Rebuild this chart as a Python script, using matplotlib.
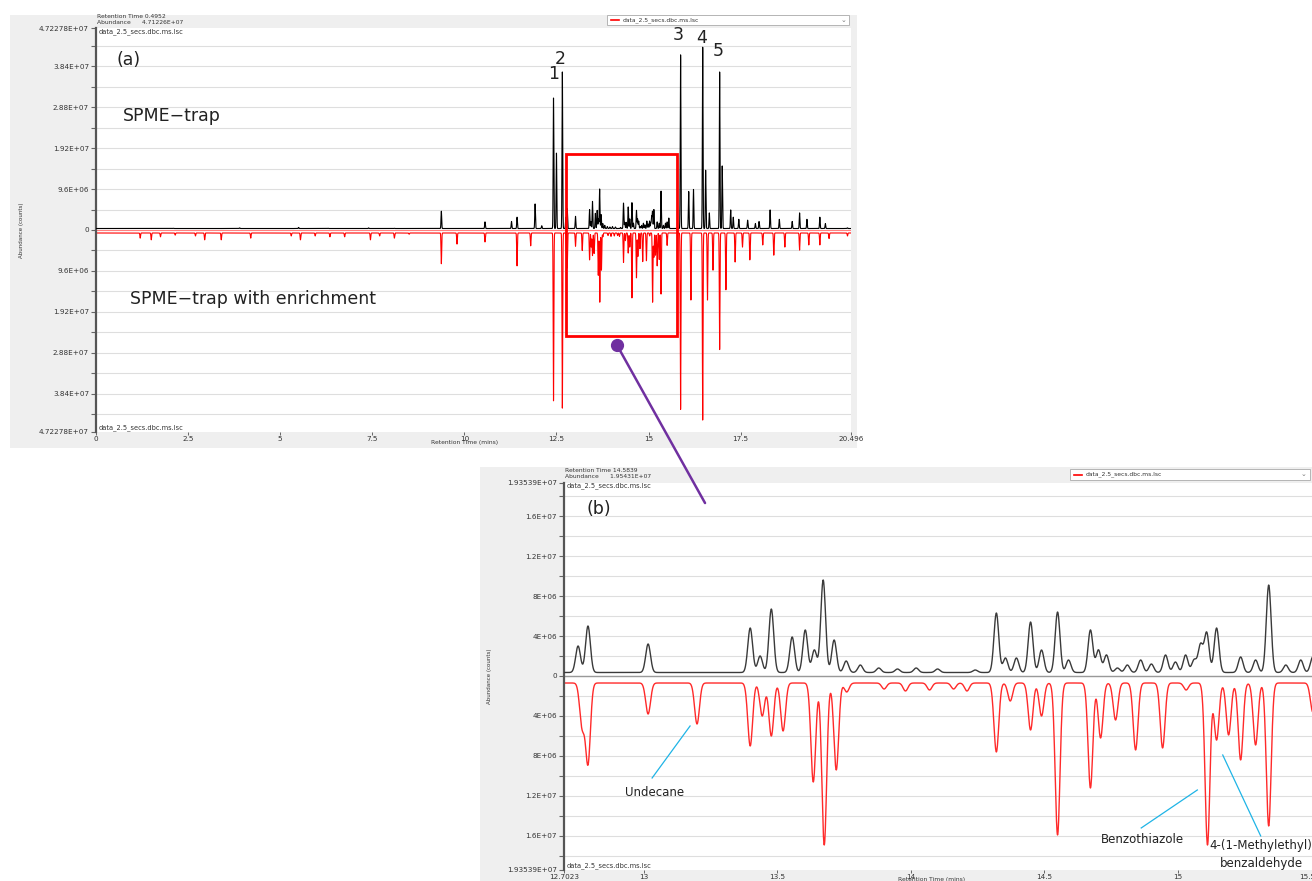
import numpy as np
import matplotlib
matplotlib.use("Agg")
import matplotlib.pyplot as plt
from matplotlib.patches import Rectangle, ConnectionPatch

W, H = 1312, 881

# ---------------- data (retention time in min, abundance in 1e6 counts) ----------------
black_rt = [1.5, 2.1, 2.8, 3.9, 5.5, 6.3, 7.4, 8.1, 8.6,
            9.375, 10.56, 11.28, 11.43, 11.92, 12.10, 12.42, 12.50, 12.66,
            12.755, 12.792, 13.017, 13.399, 13.436, 13.478, 13.556, 13.605, 13.639, 13.672,
            13.713, 13.758, 13.811, 13.88, 13.95, 14.02, 14.10, 14.241, 14.320, 14.354, 14.395, 14.448,
            14.489, 14.549, 14.590, 14.672, 14.702, 14.732, 14.773, 14.81, 14.860, 14.90, 14.953, 14.99,
            15.028, 15.06, 15.084, 15.107, 15.144, 15.234, 15.290, 15.339, 15.403, 15.459, 15.504,
            15.55, 15.87, 16.09, 16.22, 16.47, 16.55, 16.65, 16.93, 17.00, 17.23, 17.30,
            17.45, 17.69, 17.90, 18.00, 18.30, 18.55, 18.90, 19.10, 19.30, 19.65, 19.80, 20.40]
black_ht = [0.3, 0.4, 0.3, 0.5, 0.6, 0.4, 0.5, 0.4, 0.3,
            4.4, 1.9, 2.0, 3.0, 6.1, 1.0, 30.9, 18.0, 37.0,
            3.0, 5.0, 3.2, 4.8, 2.0, 6.7, 3.9, 4.6, 2.6, 9.6,
            3.6, 1.5, 1.1, 0.8, 0.7, 0.8, 0.7, 0.6, 6.3, 1.8, 1.8, 5.4,
            2.6, 6.4, 1.6, 4.6, 2.6, 2.1, 0.8, 1.1, 1.6, 1.2, 2.1, 1.4,
            2.1, 1.6, 3.1, 4.3, 4.8, 1.9, 1.6, 9.1, 1.1, 1.6, 1.9,
            2.8, 41.0, 9.0, 9.5, 42.8, 14.0, 4.0, 37.0, 15.0, 4.7, 3.0,
            2.5, 2.3, 1.5, 2.0, 4.7, 2.5, 2.0, 4.0, 2.5, 3.0, 1.5, 0.5]

red_rt = [1.2, 1.5, 1.75, 2.15, 2.7, 2.95, 3.4, 4.2, 5.3, 5.55, 5.95, 6.35, 6.75,
          7.45, 7.7, 8.1, 8.5,
          9.375, 9.8, 10.56, 11.43, 11.80, 12.42, 12.66,
          12.770, 12.792, 13.017, 13.200, 13.399, 13.444, 13.478, 13.522, 13.635, 13.676,
          13.721, 13.76, 13.90, 13.98, 14.07, 14.16, 14.21, 14.320, 14.372, 14.448, 14.489,
          14.549, 14.672, 14.710, 14.766, 14.841, 14.942, 15.03, 15.110, 15.144, 15.189,
          15.234, 15.290, 15.339, 15.504,
          15.87, 16.15, 16.47, 16.60, 16.75, 16.93, 17.10, 17.35, 17.55, 17.75, 18.10,
          18.40, 18.70, 19.10, 19.35, 19.65, 19.90, 20.40]
red_ht = [1.9, 2.3, 1.6, 1.2, 1.4, 2.3, 2.3, 1.9, 1.4, 2.3, 1.4, 1.6, 1.6,
          2.3, 1.4, 1.9, 1.0,
          7.9, 3.3, 2.8, 8.4, 3.7, 40.0, 41.7,
          5.0, 8.7, 3.8, 4.8, 7.0, 4.0, 6.0, 5.5, 10.6, 16.9,
          9.4, 1.6, 1.3, 1.5, 1.4, 1.3, 1.5, 7.6, 2.5, 5.4, 4.0,
          15.9, 11.2, 6.2, 4.4, 7.4, 7.2, 1.4, 16.9, 6.4, 5.9,
          8.4, 6.9, 15.0, 3.6,
          42.0, 16.4, 44.5, 16.4, 9.4, 28.0, 14.0, 7.5, 4.0, 7.0, 3.5,
          5.9, 4.0, 4.7, 3.5, 3.5, 2.0, 1.4]

peak_labels = ["1", "2", "3", "4", "5"]
peak_label_rt = [12.41, 12.60, 15.80, 16.45, 16.88]
peak_label_y = [3.65e7, 4.0e7, 4.56e7, 4.5e7, 4.19e7]

a_ymax = 4.72278e7
a_yticks = [-4.72278e7, -3.84e7, -2.88e7, -1.92e7, -9.6e6, 0, 9.6e6, 1.92e7, 2.88e7, 3.84e7, 4.72278e7]
a_ylabels = ["4.72278E+07", "3.84E+07", "2.88E+07", "1.92E+07", "9.6E+06", "0",
             "9.6E+06", "1.92E+07", "2.88E+07", "3.84E+07", "4.72278E+07"]
a_xticks = [0, 2.5, 5, 7.5, 10, 12.5, 15, 17.5, 20.496]
a_xlabels = ["0", "2.5", "5", "7.5", "10", "12.5", "15", "17.5", "20.496"]

b_ymax = 1.93539e7
b_yticks = [-1.93539e7, -1.6e7, -1.2e7, -8e6, -4e6, 0, 4e6, 8e6, 1.2e7, 1.6e7, 1.93539e7]
b_ylabels = ["1.93539E+07", "1.6E+07", "1.2E+07", "8E+06", "4E+06", "0",
             "4E+06", "8E+06", "1.2E+07", "1.6E+07", "1.93539E+07"]
b_xticks = [12.7023, 13, 13.5, 14, 14.5, 15, 15.501]
b_xlabels = ["12.7023", "13", "13.5", "14", "14.5", "15", "15.501"]

SIG = 0.009
t = np.arange(0.0, 20.5, 0.001)


def build(rt, ht, sign, base):
    y = np.full_like(t, base)
    for r, h in zip(rt, ht):
        amp = max(h * 1e6 - abs(base), 0.0)
        y = y + sign * amp * np.exp(-0.5 * ((t - r) / SIG) ** 2)
    return y


y_black = build(black_rt, black_ht, 1, 0.35e6)
y_red = build(red_rt, red_ht, -1, -0.7e6)

fig = plt.figure(figsize=(W / 100, H / 100), dpi=100)
fig.patch.set_facecolor("white")

def fr(x0, y0, x1, y1):
    return [x0 / W, 1 - y1 / H, (x1 - x0) / W, (y1 - y0) / H]

def ftext(px, py, s, **kw):
    kw.setdefault("zorder", 20)
    fig.text(px / W, 1 - py / H, s, **kw)

BG = "#efefef"
GRID = "#dedede"
TXT = "#333333"

# background panels
fig.patches.append(Rectangle((10 / W, 1 - 448 / H), 847 / W, 433 / H, transform=fig.transFigure,
                             facecolor=BG, edgecolor="none", zorder=-5))
fig.patches.append(Rectangle((480 / W, 0), 832 / W, (881 - 467) / H, transform=fig.transFigure,
                             facecolor=BG, edgecolor="none", zorder=-5))


def style_axes(ax, yticks, ylabels, xticks, xlabels, ymax, step):
    ax.set_zorder(1)
    ax.set_facecolor("white")
    for s in ["top", "right", "bottom"]:
        ax.spines[s].set_visible(False)
    ax.spines["left"].set_color("#555555")
    ax.spines["left"].set_linewidth(1.6)
    ax.set_ylim(-ymax, ymax)
    ax.set_yticks(yticks)
    ax.set_yticklabels(ylabels, fontsize=5.2, color=TXT)
    minors = np.arange(-int(ymax / step) * step, ymax + 1, step)
    ax.set_yticks(minors, minor=True)
    ax.tick_params(axis="y", which="both", direction="out", length=3.5, width=0.8, color="#666666", pad=1.5)
    ax.set_xticks(xticks)
    ax.set_xticklabels(xlabels, fontsize=5.2, color=TXT)
    ax.tick_params(axis="x", direction="out", length=2.5, width=0.7, color="#666666", pad=0.5)
    for v in minors:
        ax.axhline(v, color=GRID, lw=0.8, zorder=0)


# ---------------- panel (a) ----------------
axa = fig.add_axes(fr(96, 28.3, 851, 431.7))
axa.set_xlim(0, 20.496)
style_axes(axa, a_yticks, a_ylabels, a_xticks, a_xlabels, a_ymax, 4.8e6)
axa.plot(t, y_black, color="black", lw=0.8, zorder=3)
axa.plot(t, y_red, color="#ff0000", lw=0.8, zorder=2)
axa.axhline(0, color="#ff8080", lw=0.8, zorder=1)
for lab, x, y in zip(peak_labels, peak_label_rt, peak_label_y):
    axa.text(x, y, lab, fontsize=12.5, ha="center", va="center", color="#222222", zorder=5)
axa.add_patch(Rectangle((12.76, -2.48e7), 15.77 - 12.76, 1.78e7 + 2.48e7, fill=False,
                        edgecolor="#ff0000", lw=2.0, zorder=6))
axa.plot([14.14], [-2.69e7], "o", color="#7030A0", ms=8.5, zorder=7, clip_on=False)

ftext(129, 60, "(a)", fontsize=12.5, ha="center", va="center", color="#222222")
ftext(123, 116, "SPME\u2212trap", fontsize=12.5, ha="left", va="center", color="#222222")
ftext(130, 299, "SPME\u2212trap with enrichment", fontsize=12.5, ha="left", va="center", color="#222222")
ftext(97, 17, "Retention Time 0.4952", fontsize=4.3, ha="left", va="center", color=TXT)
ftext(97, 23, "Abundance      4.71226E+07", fontsize=4.3, ha="left", va="center", color=TXT)
ftext(99, 31.5, "data_2.5_secs.dbc.ms.lsc", fontsize=4.8, ha="left", va="center", color=TXT)
ftext(99, 428, "data_2.5_secs.dbc.ms.lsc", fontsize=4.8, ha="left", va="center", color=TXT)
ftext(465, 442.5, "Retention Time (mins)", fontsize=4.3, ha="center", va="center", color=TXT)
ftext(22, 230, "Abundance (counts)", fontsize=4.0, ha="center", va="center", rotation=90, color=TXT)
fig.patches.append(Rectangle((607 / W, 1 - 25 / H), 242 / W, 10 / H, transform=fig.transFigure,
                             facecolor="white", edgecolor="#aaaaaa", lw=0.6, zorder=5))
fig.lines.append(plt.Line2D([611 / W, 619 / W], [1 - 20 / H, 1 - 20 / H], transform=fig.transFigure,
                            color="#ff0000", lw=1.2, zorder=6))
ftext(623, 20, "data_2.5_secs.dbc.ms.lsc", fontsize=4.3, ha="left", va="center", color=TXT)
ftext(843, 19.5, "\u2304", fontsize=5, ha="center", va="center", color="#777777")

# ---------------- panel (b) ----------------
axb = fig.add_axes(fr(564, 482.5, 1312, 869.5))
axb.set_xlim(12.7023, 15.501)
style_axes(axb, b_yticks, b_ylabels, b_xticks, b_xlabels, b_ymax, 2e6)
axb.axhline(0, color="#999999", lw=1.0, zorder=1)
axb.plot(t, y_black, color="#3a3a3a", lw=1.0, zorder=3)
axb.plot(t, y_red, color="#ff2a2a", lw=1.0, zorder=2)

CY = "#1fb4e6"
axb.plot([13.032, 13.174], [-1.02e7, -5.0e6], color=CY, lw=0.9, zorder=4)
axb.text(13.04, -1.17e7, "Undecane", fontsize=8.5, ha="center", va="center", color="#222222")
axb.plot([14.862, 15.072], [-1.52e7, -1.14e7], color=CY, lw=0.9, zorder=4)
axb.text(14.865, -1.64e7, "Benzothiazole", fontsize=8.5, ha="center", va="center", color="#222222")
axb.plot([15.309, 15.167], [-1.60e7, -7.9e6], color=CY, lw=0.9, zorder=4)
axb.text(15.31, -1.70e7, "4-(1-Methylethyl)", fontsize=8.5, ha="center", va="center", color="#222222")
axb.text(15.31, -1.88e7, "benzaldehyde", fontsize=8.5, ha="center", va="center", color="#222222")

ftext(599, 509, "(b)", fontsize=12.5, ha="center", va="center", color="#222222")
ftext(565, 471, "Retention Time 14.5839", fontsize=4.3, ha="left", va="center", color=TXT)
ftext(565, 477, "Abundance      1.95431E+07", fontsize=4.3, ha="left", va="center", color=TXT)
ftext(567, 485.5, "data_2.5_secs.dbc.ms.lsc", fontsize=4.8, ha="left", va="center", color=TXT)
ftext(567, 866, "data_2.5_secs.dbc.ms.lsc", fontsize=4.8, ha="left", va="center", color=TXT)
ftext(932, 880, "Retention Time (mins)", fontsize=4.3, ha="center", va="center", color=TXT)
ftext(490, 676, "Abundance (counts)", fontsize=4.0, ha="center", va="center", rotation=90, color=TXT)
fig.patches.append(Rectangle((1070 / W, 1 - 480 / H), 240 / W, 11 / H, transform=fig.transFigure,
                             facecolor="white", edgecolor="#aaaaaa", lw=0.6, zorder=5))
fig.lines.append(plt.Line2D([1074 / W, 1082 / W], [1 - 474.5 / H, 1 - 474.5 / H], transform=fig.transFigure,
                            color="#ff0000", lw=1.2, zorder=6))
ftext(1086, 474.5, "data_2.5_secs.dbc.ms.lsc", fontsize=4.3, ha="left", va="center", color=TXT)
ftext(1303, 474, "\u2304", fontsize=5, ha="center", va="center", color="#777777")

# connector
con = ConnectionPatch(xyA=(14.14, -2.69e7), coordsA=axa.transData,
                      xyB=(13.230, 1.73e7), coordsB=axb.transData,
                      color="#7030A0", lw=1.8, zorder=10)
fig.add_artist(con)

fig.savefig("out.png", dpi=100)
